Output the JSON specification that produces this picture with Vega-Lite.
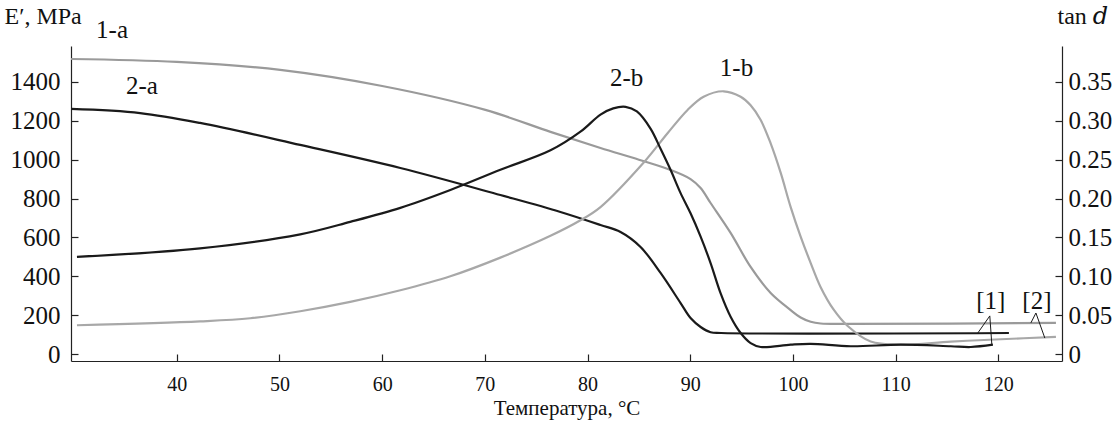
{
  "$schema": "https://vega.github.io/schema/vega-lite/v6.json",
  "width": 991,
  "height": 315,
  "autosize": {"type": "none"},
  "padding": {"left": 71, "top": 46, "right": 56, "bottom": 65},
  "background": "white",
  "config": {
    "view": {"stroke": null},
    "font": "'Liberation Serif', 'Times New Roman', Times, 'DejaVu Serif', serif",
    "axis": {
      "grid": false,
      "domainColor": "#222",
      "tickColor": "#222",
      "labelColor": "#111",
      "titleColor": "#111",
      "labelFont": "'Liberation Serif', 'Times New Roman', Times, 'DejaVu Serif', serif",
      "titleFont": "'Liberation Serif', 'Times New Roman', Times, 'DejaVu Serif', serif",
      "titleFontWeight": "normal",
      "domainWidth": 1.2,
      "tickWidth": 1.2
    }
  },
  "datasets": {
    "curves": [
      {"T": 29.7, "v": 1518, "s": "1-a"},
      {"T": 40.0, "v": 1503, "s": "1-a"},
      {"T": 50.07, "v": 1462, "s": "1-a"},
      {"T": 60.0, "v": 1379, "s": "1-a"},
      {"T": 70.05, "v": 1256, "s": "1-a"},
      {"T": 76.39, "v": 1143, "s": "1-a"},
      {"T": 81.26, "v": 1060, "s": "1-a"},
      {"T": 85.0, "v": 1000, "s": "1-a"},
      {"T": 88.08, "v": 947, "s": "1-a"},
      {"T": 90.03, "v": 900, "s": "1-a"},
      {"T": 91.01, "v": 854, "s": "1-a"},
      {"T": 91.98, "v": 777, "s": "1-a"},
      {"T": 93.93, "v": 623, "s": "1-a"},
      {"T": 95.88, "v": 448, "s": "1-a"},
      {"T": 97.83, "v": 314, "s": "1-a"},
      {"T": 99.78, "v": 226, "s": "1-a"},
      {"T": 100.75, "v": 188, "s": "1-a"},
      {"T": 101.73, "v": 166, "s": "1-a"},
      {"T": 102.7, "v": 157, "s": "1-a"},
      {"T": 105.63, "v": 155, "s": "1-a"},
      {"T": 125.61, "v": 160, "s": "1-a"},
      {"T": 29.7, "v": 1261, "s": "2-a"},
      {"T": 36.43, "v": 1240, "s": "2-a"},
      {"T": 42.27, "v": 1189, "s": "2-a"},
      {"T": 52.02, "v": 1076, "s": "2-a"},
      {"T": 61.77, "v": 957, "s": "2-a"},
      {"T": 71.51, "v": 818, "s": "2-a"},
      {"T": 77.36, "v": 731, "s": "2-a"},
      {"T": 81.26, "v": 664, "s": "2-a"},
      {"T": 83.21, "v": 628, "s": "2-a"},
      {"T": 85.16, "v": 551, "s": "2-a"},
      {"T": 87.11, "v": 417, "s": "2-a"},
      {"T": 89.06, "v": 262, "s": "2-a"},
      {"T": 90.03, "v": 185, "s": "2-a"},
      {"T": 91.01, "v": 139, "s": "2-a"},
      {"T": 91.98, "v": 112, "s": "2-a"},
      {"T": 93.0, "v": 108, "s": "2-a"},
      {"T": 121.03, "v": 108, "s": "2-a"},
      {"T": 30.28, "v": 0.037, "s": "1-b"},
      {"T": 42.27, "v": 0.042, "s": "1-b"},
      {"T": 47.15, "v": 0.046, "s": "1-b"},
      {"T": 52.02, "v": 0.055, "s": "1-b"},
      {"T": 56.89, "v": 0.067, "s": "1-b"},
      {"T": 61.77, "v": 0.082, "s": "1-b"},
      {"T": 66.64, "v": 0.100, "s": "1-b"},
      {"T": 71.51, "v": 0.124, "s": "1-b"},
      {"T": 76.39, "v": 0.152, "s": "1-b"},
      {"T": 79.31, "v": 0.172, "s": "1-b"},
      {"T": 81.26, "v": 0.189, "s": "1-b"},
      {"T": 85.45, "v": 0.246, "s": "1-b"},
      {"T": 87.79, "v": 0.284, "s": "1-b"},
      {"T": 89.74, "v": 0.314, "s": "1-b"},
      {"T": 91.30, "v": 0.331, "s": "1-b"},
      {"T": 93.25, "v": 0.338, "s": "1-b"},
      {"T": 94.91, "v": 0.331, "s": "1-b"},
      {"T": 95.88, "v": 0.320, "s": "1-b"},
      {"T": 96.86, "v": 0.301, "s": "1-b"},
      {"T": 97.83, "v": 0.271, "s": "1-b"},
      {"T": 98.81, "v": 0.233, "s": "1-b"},
      {"T": 99.78, "v": 0.189, "s": "1-b"},
      {"T": 100.75, "v": 0.151, "s": "1-b"},
      {"T": 101.73, "v": 0.117, "s": "1-b"},
      {"T": 102.70, "v": 0.086, "s": "1-b"},
      {"T": 103.97, "v": 0.057, "s": "1-b"},
      {"T": 105.33, "v": 0.036, "s": "1-b"},
      {"T": 107.57, "v": 0.016, "s": "1-b"},
      {"T": 110.50, "v": 0.012, "s": "1-b"},
      {"T": 115.37, "v": 0.016, "s": "1-b"},
      {"T": 120.25, "v": 0.019, "s": "1-b"},
      {"T": 125.61, "v": 0.022, "s": "1-b"},
      {"T": 30.28, "v": 0.125, "s": "2-b"},
      {"T": 42.27, "v": 0.136, "s": "2-b"},
      {"T": 52.02, "v": 0.154, "s": "2-b"},
      {"T": 56.89, "v": 0.170, "s": "2-b"},
      {"T": 61.77, "v": 0.188, "s": "2-b"},
      {"T": 66.64, "v": 0.211, "s": "2-b"},
      {"T": 71.51, "v": 0.237, "s": "2-b"},
      {"T": 76.39, "v": 0.262, "s": "2-b"},
      {"T": 79.31, "v": 0.286, "s": "2-b"},
      {"T": 81.26, "v": 0.308, "s": "2-b"},
      {"T": 82.5, "v": 0.316, "s": "2-b"},
      {"T": 83.7, "v": 0.318, "s": "2-b"},
      {"T": 84.8, "v": 0.312, "s": "2-b"},
      {"T": 86.13, "v": 0.290, "s": "2-b"},
      {"T": 87.11, "v": 0.264, "s": "2-b"},
      {"T": 88.08, "v": 0.237, "s": "2-b"},
      {"T": 89.06, "v": 0.207, "s": "2-b"},
      {"T": 90.03, "v": 0.181, "s": "2-b"},
      {"T": 91.01, "v": 0.151, "s": "2-b"},
      {"T": 91.98, "v": 0.117, "s": "2-b"},
      {"T": 92.96, "v": 0.078, "s": "2-b"},
      {"T": 93.93, "v": 0.048, "s": "2-b"},
      {"T": 94.91, "v": 0.027, "s": "2-b"},
      {"T": 95.88, "v": 0.014, "s": "2-b"},
      {"T": 96.86, "v": 0.009, "s": "2-b"},
      {"T": 99.78, "v": 0.012, "s": "2-b"},
      {"T": 101.73, "v": 0.013, "s": "2-b"},
      {"T": 105.63, "v": 0.010, "s": "2-b"},
      {"T": 110.50, "v": 0.012, "s": "2-b"},
      {"T": 115.37, "v": 0.010, "s": "2-b"},
      {"T": 117.32, "v": 0.009, "s": "2-b"},
      {"T": 119.47, "v": 0.012, "s": "2-b"}
    ],
    "leaders": [
      {"T": 118.0, "v": 108, "g": "1", "o": 1},
      {"T": 119.17, "v": 196, "g": "1", "o": 2},
      {"T": 119.37, "v": 46, "g": "1", "o": 3},
      {"T": 123.17, "v": 160, "g": "2", "o": 1},
      {"T": 123.66, "v": 211, "g": "2", "o": 2},
      {"T": 124.53, "v": 82, "g": "2", "o": 3}
    ],
    "labels": [
      {"T": 33.7, "v": 1668, "t": "1-a"},
      {"T": 36.6, "v": 1380, "t": "2-a"},
      {"T": 83.8, "v": 1420, "t": "2-b"},
      {"T": 94.5, "v": 1472, "t": "1-b"},
      {"T": 119.27, "v": 272, "t": "[1]"},
      {"T": 123.76, "v": 272, "t": "[2]"}
    ]
  },
  "encoding": {
    "x": {
      "field": "T",
      "type": "quantitative",
      "scale": {"domain": [29.7, 126.2], "nice": false, "zero": false},
      "axis": {
        "values": [40, 50, 60, 70, 80, 90, 100, 110, 120],
        "title": "Температура, °C",
        "tickSize": -7,
        "labelFontSize": 20,
        "labelPadding": 20,
        "titleFontSize": 21,
        "titleBaseline": "middle",
        "titleY": 47
      }
    }
  },
  "layer": [
    {
      "data": {"name": "curves"},
      "transform": [{"filter": "datum.s == '1-a' || datum.s == '2-a'"}],
      "mark": {"type": "line", "interpolate": "catmull-rom"},
      "encoding": {
        "y": {
          "field": "v",
          "type": "quantitative",
          "scale": {"domain": [-36, 1585], "nice": false, "zero": false},
          "axis": {
            "orient": "left",
            "values": [0, 200, 400, 600, 800, 1000, 1200, 1400],
            "format": "d",
            "title": "E′, MPa",
            "tickSize": -7,
            "labelFontSize": 25,
            "labelPadding": 18,
            "titleFontSize": 24,
            "titleAngle": 0,
            "titleAlign": "left",
            "titleBaseline": "middle",
            "titleX": -67,
            "titleY": -30
          }
        },
        "color": {"field": "s", "type": "nominal", "scale": {"domain": ["1-a", "2-a", "1-b", "2-b"], "range": ["#9a9a9a", "#1a1a1a", "#a8a8a8", "#1a1a1a"]}, "legend": null},
        "strokeWidth": {"field": "s", "type": "nominal", "scale": {"domain": ["1-a", "2-a", "1-b", "2-b"], "range": [2.2, 2.2, 1.3, 1.3]}, "legend": null}
      }
    },
    {
      "data": {"name": "curves"},
      "transform": [{"filter": "datum.s == '1-b' || datum.s == '2-b'"}],
      "mark": {"type": "line", "interpolate": "catmull-rom"},
      "encoding": {
        "y": {
          "field": "v",
          "type": "quantitative",
          "scale": {"domain": [-0.009, 0.39625], "nice": false, "zero": false},
          "axis": {
            "orient": "right",
            "values": [0, 0.05, 0.1, 0.15, 0.2, 0.25, 0.3, 0.35],
            "labelExpr": "datum.value == 0 ? '0' : format(datum.value, '.2f')",
            "title": "tan 𝑑",
            "tickSize": -7,
            "labelFontSize": 25,
            "labelPadding": 13,
            "titleFontSize": 24,
            "titleAngle": 0,
            "titleAlign": "left",
            "titleBaseline": "middle",
            "titleX": -5,
            "titleY": -30
          }
        },
        "color": {"field": "s", "type": "nominal", "legend": null},
        "strokeWidth": {"field": "s", "type": "nominal", "legend": null}
      }
    },
    {
      "data": {"name": "leaders"},
      "mark": {"type": "line", "color": "#1a1a1a", "strokeWidth": 1},
      "encoding": {
        "y": {"field": "v", "type": "quantitative", "scale": {"domain": [-36, 1585], "nice": false, "zero": false}, "axis": null},
        "detail": {"field": "g"},
        "order": {"field": "o"}
      }
    },
    {
      "data": {"name": "labels"},
      "mark": {"type": "text", "fontSize": 25, "color": "#111", "baseline": "middle", "align": "center"},
      "encoding": {
        "y": {"field": "v", "type": "quantitative", "scale": {"domain": [-36, 1585], "nice": false, "zero": false}, "axis": null},
        "text": {"field": "t"}
      }
    }
  ],
  "resolve": {"scale": {"y": "independent", "color": "shared", "strokeWidth": "shared"}}
}
